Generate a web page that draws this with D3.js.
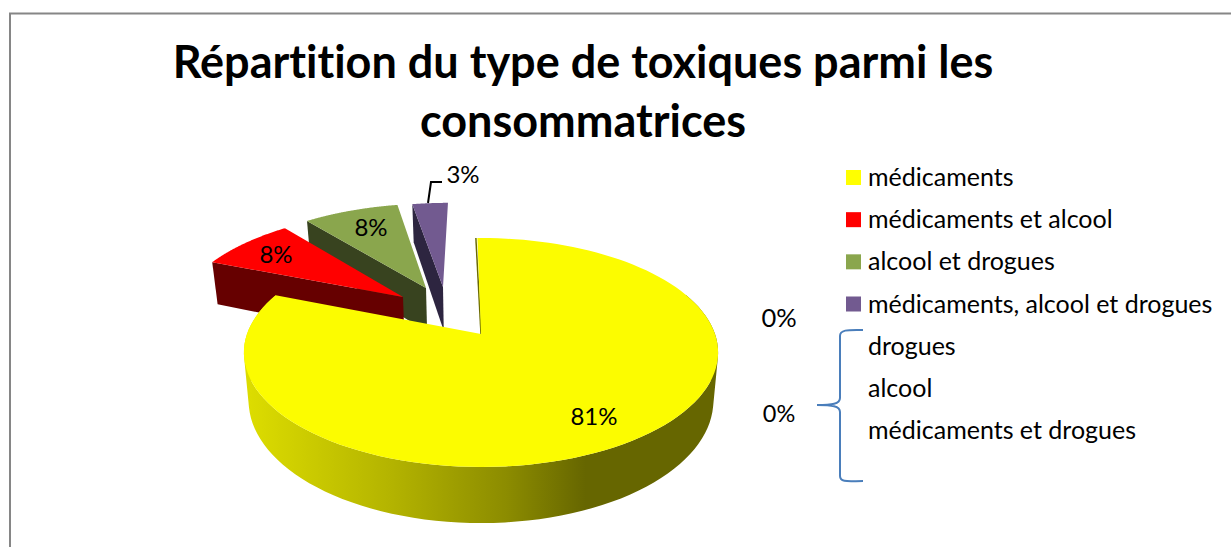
<!DOCTYPE html>
<html>
<head>
<meta charset="utf-8">
<script src="https://cdn.jsdelivr.net/npm/d3@7"></script>
<style>
  html, body { margin: 0; padding: 0; background: #fff; overflow: hidden; }
  text { font-family: Lato, sans-serif; fill: #000; font-variant-ligatures: none; }
</style>
</head>
<body>
<svg id="chart" width="1231" height="547"></svg>
<script>
var titleLines = ["Répartition du type de toxiques parmi les", "consommatrices"];
var categories = ["médicaments", "médicaments et alcool", "alcool et drogues", "médicaments, alcool et drogues", "drogues", "alcool", "médicaments et drogues"];
var values = [81, 8, 8, 3, 0, 0, 0];
var colors = ["#ffff00", "#ff0000", "#8aa64d", "#725a90", "none", "none", "none"];
var sideColors = ["url(#yellowSide)", "#660000", "#38431f", "#2d2540", "none", "none", "none"];

var svg = d3.select("#chart");

// pie plane to screen, circle seen in perspective
var cx = 481, cy = 334, a = 234, b = 111.5, k = 0.1616;
var depth = 47, shrink = 0.98;

function project(u, v) {
  var w = 1 - k * v;
  return [cx + a * u / w, cy + b * v / w];
}
function unproject(x, y) {
  var t = y - cy;
  var v = t / (b + k * t);
  return [(x - cx) * (1 - k * v) / a, v];
}
function lower(p, v) {
  var w = 1 - k * v;
  return [cx + (p[0] - cx) * shrink, p[1] + depth / w];
}

// where the tip of each slice ends up once pulled out of the pie
var tips = [[481, 334], [403, 297], [426, 288], [443, 287]];
var labelSpots = [[594, 425], [276, 263], [371, 236], [463, 183]];

var slices = d3.pie().sort(null)(values);
var line = d3.line();

function rim(d, off) {
  return d3.range(0, 121).map(function(i) {
    var t = d.startAngle + (d.endAngle - d.startAngle) * i / 120;
    return { u: off[0] + Math.sin(t), v: off[1] - Math.cos(t) };
  });
}

var defs = svg.append("defs");
var grad = defs.append("linearGradient").attr("id", "yellowSide")
  .attr("gradientUnits", "userSpaceOnUse")
  .attr("x1", 250).attr("x2", 716).attr("y1", 0).attr("y2", 0);
[[0, "#dcdc00"], [0.3, "#b4b400"], [0.55, "#8c8c00"], [0.72, "#666600"], [1, "#666600"]].forEach(function(s) {
  grad.append("stop").attr("offset", s[0]).attr("stop-color", s[1]);
});

// frame, open on the right and running off the bottom
svg.append("path")
  .attr("d", line([[10, 547], [10, 13.5], [1231, 13.5]]))
  .attr("fill", "none").attr("stroke", "#868686").attr("stroke-width", 2);

// back slices first, the big one on top
[3, 2, 1, 0].forEach(function(i) {
  var d = slices[i];
  var off = unproject(tips[i][0], tips[i][1]);
  var pts = rim(d, off);
  var g = svg.append("g").attr("class", "slice");
  var tipTop = project(off[0], off[1]);
  var surface = pts.map(function(p) { return project(p.u, p.v); });

  if (i === 0) {
    // outer wall as quads in one path, front half only, no seams between them
    var front = pts.filter(function(p) { return p.v > -0.4; });
    var wall = d3.pairs(front).map(function(q) {
      var t0 = project(q[0].u, q[0].v), t1 = project(q[1].u, q[1].v);
      var quad = [t0, t1, lower(t1, q[1].v), lower(t0, q[0].v)];
      if (d3.polygonArea(quad) < 0) quad.reverse();
      return line(quad) + "Z";
    }).join("");
    g.append("path").attr("d", wall).attr("fill", sideColors[i]);
    var first = project(off[0] + Math.sin(d.startAngle - 0.018), off[1] - Math.cos(d.startAngle - 0.018));
    g.append("path").attr("d", line([[first[0] - 1.5, first[1]], tipTop]))
      .attr("stroke", "#6b6b00").attr("stroke-width", 1.5).attr("fill", "none");
    surface.unshift(first);
  } else {
    // left hand cut face, the only side seen on these
    var p0 = pts[0];
    var top0 = project(p0.u, p0.v);
    g.append("path")
      .attr("d", line([top0, tipTop, lower(tipTop, off[1]), lower(top0, p0.v)]) + "Z")
      .attr("fill", sideColors[i]);
  }

  surface.push(tipTop);
  g.append("path").attr("d", line(surface) + "Z").attr("fill", i === 0 ? "#fcfc00" : colors[i]);
});

// percent labels
slices.slice(0, 4).forEach(function(d, i) {
  svg.append("text")
    .attr("x", labelSpots[i][0]).attr("y", labelSpots[i][1])
    .attr("text-anchor", "middle").attr("font-size", 24)
    .text(values[i] + "%");
});

// leader of the 3% label
svg.append("path")
  .attr("d", line([[428, 203], [431, 182], [442, 182]]))
  .attr("fill", "none").attr("stroke", "#000").attr("stroke-width", 2);

// title
svg.selectAll(".title").data(titleLines).enter().append("text")
  .attr("class", "title")
  .attr("x", 583).attr("y", function(d, i) { return 78 + i * 59; })
  .attr("text-anchor", "middle")
  .attr("font-size", 45).attr("font-weight", 700)
  .text(function(d) { return d; });

// legend
var legendY = d3.scalePoint().domain(categories).range([186, 439]);
var legend = svg.selectAll(".legend").data(categories).enter().append("g").attr("class", "legend");
legend.append("text")
  .attr("x", 868).attr("y", function(d) { return legendY(d); })
  .attr("font-size", 25)
  .text(function(d) { return d; });
legend.filter(function(d, i) { return values[i] > 0; }).append("rect")
  .attr("x", 846).attr("y", function(d) { return legendY(d) - 16; })
  .attr("width", 15).attr("height", 15)
  .attr("fill", function(d) { return colors[categories.indexOf(d)]; });

// the two zero labels and the brace
svg.append("text").attr("x", 779).attr("y", 327).attr("text-anchor", "middle").attr("font-size", 25.5).text("0%");
svg.append("text").attr("x", 779).attr("y", 422).attr("text-anchor", "middle").attr("font-size", 23.5).text("0%");
svg.append("path")
  .attr("d", "M863,330 C850,330 840,329 840,336 L840,398 C840,404 832,405 817,405 C832,405 840,406 840,412 L840,476 C840,483 850,481 863,481")
  .attr("fill", "none").attr("stroke", "#4a7ebb").attr("stroke-width", 2);
</script>
</body>
</html>
